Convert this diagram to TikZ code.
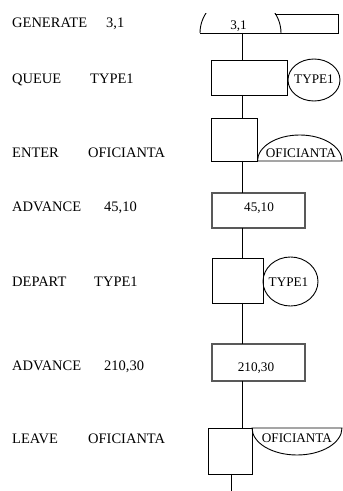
\documentclass[tikz,border=0pt]{standalone}
\usepackage{fontspec}
\setmainfont{Liberation Serif}
\usetikzlibrary{shapes.geometric}
\begin{document}
\begin{tikzpicture}[x=1pt,y=1pt,
  blk/.style={draw=black,line width=0.9pt,rectangle,inner sep=0pt,outer sep=0pt},
  advblk/.style={draw=black!65,line width=1.3pt,rectangle,inner sep=0pt,outer sep=0pt},
  lbl/.style={anchor=base west,inner sep=0pt,font=\fontsize{14.5}{16}\selectfont},
  inlbl/.style={anchor=base,inner sep=0pt,font=\fontsize{13.2}{15}\selectfont},
  flow/.style={draw=black,line width=0.9pt},
  shp/.style={draw=black,line width=0.9pt}]
\useasboundingbox (0,0) rectangle (343,491);
\fill[white] (0,0) rectangle (343,491);

% statement listing
\node[lbl] (tGen)  at (12,463) {GENERATE};
\node[lbl] (aGen)  at (106,463) {3,1};
\node[lbl] (tQue)  at (12,407) {QUEUE};
\node[lbl] (aQue)  at (90,407) {TYPE1};
\node[lbl] (tEnt)  at (12,333) {ENTER};
\node[lbl] (aEnt)  at (88,333) {OFICIANTA};
\node[lbl] (tAdv)  at (12,279) {ADVANCE};
\node[lbl] (aAdv)  at (104,279) {45,10};
\node[lbl] (tDep)  at (12,204) {DEPART};
\node[lbl] (aDep)  at (94,204) {TYPE1};
\node[lbl] (tAdvb) at (12,120) {ADVANCE};
\node[lbl] (aAdvb) at (104,120) {210,30};
\node[lbl] (tLea)  at (12,48) {LEAVE};
\node[lbl] (aLea)  at (88,48) {OFICIANTA};

% spine of the block diagram
\coordinate (spine) at (242,0);

% GENERATE block
\begin{scope}
  \clip (190,450) rectangle (290,477.4);
  \draw[shp] (200,458) arc[start angle=180,end angle=0,x radius=40.5,y radius=38];
\end{scope}
\draw[shp] (200,458) -- (338,458) -- (338,477) -- (275,477);
\coordinate (genbase) at (242,458);
\node[inlbl] (genTxt) at (238.5,461) {3,1};

% QUEUE block
\node[blk,minimum width=76pt,minimum height=35pt] (queue) at (249,413.5) {};
\node[shp,ellipse,minimum width=52pt,minimum height=42pt,inner sep=0pt] (queueEl) at (314,411) {};
\node[inlbl] (queueTxt) at (314,407) {TYPE1};

% ENTER block
\node[blk,minimum width=46pt,minimum height=43pt] (enter) at (234,351.5) {};
\draw[shp] (257.5,330) arc[start angle=180,end angle=0,x radius=42.25,y radius=26] -- cycle;
\node[inlbl] (enterTxt) at (301,333) {OFICIANTA};

% ADVANCE 45,10
\node[advblk,minimum width=93pt,minimum height=35pt] (adv) at (258.5,280.5) {};
\node[inlbl] (advTxt) at (259,279) {45,10};

% DEPART block
\node[blk,minimum width=51pt,minimum height=45pt] (depart) at (237.5,210.5) {};
\node[shp,ellipse,minimum width=55pt,minimum height=49pt,inner sep=0pt] (departEl) at (290.5,209.5) {};
\node[inlbl] (departTxt) at (288.5,204) {TYPE1};

% ADVANCE 210,30
\node[advblk,minimum width=93pt,minimum height=37pt] (advb) at (258.5,128.5) {};
\node[inlbl] (advbTxt) at (256,119) {210,30};

% LEAVE block
\node[blk,minimum width=44pt,minimum height=46pt] (leave) at (230,40) {};
\draw[shp] (252,63) arc[start angle=180,end angle=360,x radius=45,y radius=27] -- cycle;
\node[inlbl] (leaveTxt) at (297,48.5) {OFICIANTA};
\coordinate (exit) at (231,0);

% transaction flow
\draw[flow] (genbase) -- (queue.north -| spine);
\draw[flow] (queue.south -| spine) -- (enter.north -| spine);
\draw[flow] (enter.south -| spine) -- (adv.north -| spine);
\draw[flow] (adv.south -| spine) -- (depart.north -| spine);
\draw[flow] (depart.south -| spine) -- (advb.north -| spine);
\draw[flow] (advb.south -| spine) -- (leave.north -| spine);
\draw[flow] (leave.south -| exit) -- (exit);
\end{tikzpicture}
\end{document}
